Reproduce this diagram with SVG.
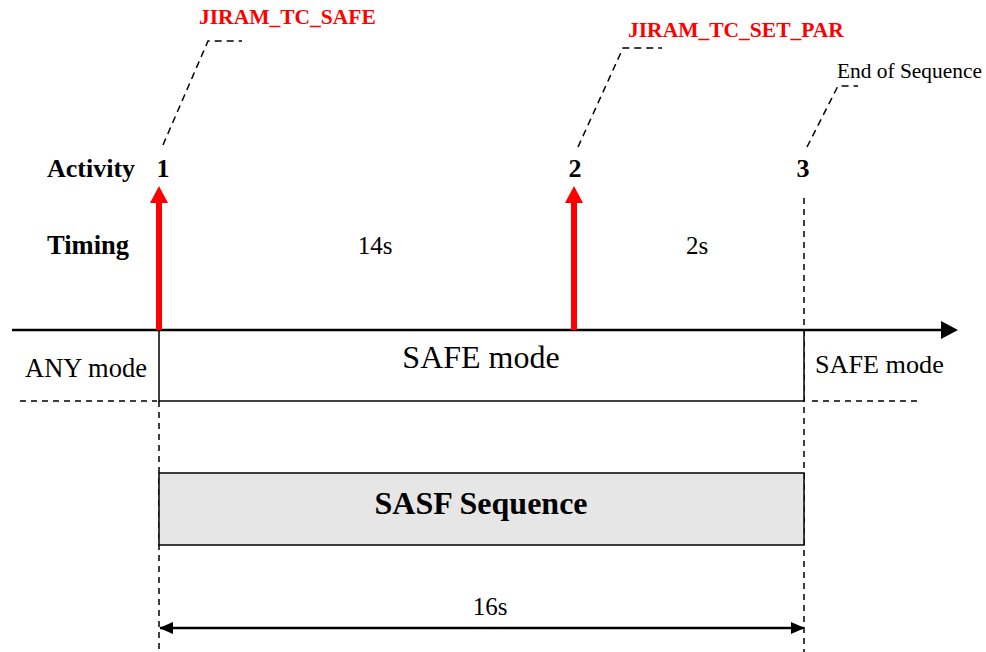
<svg xmlns="http://www.w3.org/2000/svg" width="986" height="652" viewBox="0 0 986 652">
<defs>
<style>
.t{font-family:"Liberation Serif","Times New Roman",serif;fill:#000}
.b{font-weight:bold}
.red{fill:#ff0000;font-weight:bold}
.dash{stroke:#000;stroke-width:1.5;stroke-dasharray:6,5;fill:none}
.lead{stroke:#000;stroke-width:1.5;stroke-dasharray:7,5;fill:none}
.box{stroke:#000;stroke-width:1.5}
</style>
<marker id="ah" viewBox="0 0 10 10" refX="9.5" refY="5" markerWidth="14" markerHeight="14" markerUnits="userSpaceOnUse" orient="auto-start-reverse">
<path d="M0,0.7 L10,5 L0,9.3 z" fill="#000"/>
</marker>
</defs>
<rect width="986" height="652" fill="#fff"/>

<g id="guides">
<line class="dash" x1="159" y1="401" x2="159" y2="652"/>
<line class="dash" x1="804" y1="198" x2="804" y2="652"/>
<line class="dash" x1="20" y1="401" x2="157" y2="401"/>
<line class="dash" x1="812" y1="401" x2="920" y2="401"/>
</g>

<g id="safe-mode-box">
<rect class="box" x="159" y="330" width="645" height="71" fill="#fff"/>
<text class="t" x="481" y="368" font-size="32" text-anchor="middle">SAFE mode</text>
</g>

<g id="axis">
<line x1="12" y1="330" x2="943" y2="330" stroke="#000" stroke-width="2.5"/>
<path d="M941,321 L958,330 L941,339 z" fill="#000"/>
</g>

<g id="sasf-box">
<rect class="box" x="159" y="473" width="645" height="72" fill="#e6e6e6"/>
<text class="t b" x="481" y="514" font-size="32" text-anchor="middle">SASF Sequence</text>
</g>

<g id="connectors">
<line x1="159" y1="330" x2="159" y2="200" stroke="#ff0000" stroke-width="6"/>
<path d="M150,203 L159,186 L168,203 z" fill="#ff0000"/>
<line x1="574" y1="330" x2="574" y2="200" stroke="#ff0000" stroke-width="6"/>
<path d="M565,203 L574,186 L583,203 z" fill="#ff0000"/>
<polyline class="lead" points="163,145 208,41 242,41"/>
<polyline class="lead" points="578,147 623,48 662,48"/>
<polyline class="lead" points="807,147 838,86 858,86"/>
<line x1="160" y1="628" x2="804" y2="628" stroke="#000" stroke-width="2.5" marker-start="url(#ah)" marker-end="url(#ah)"/>
</g>

<g id="labels">
<text class="t b" x="47" y="177" font-size="26">Activity</text>
<text class="t b" x="47" y="254" font-size="26.5">Timing</text>
<text class="t b" x="163" y="177" font-size="26" text-anchor="middle">1</text>
<text class="t b" x="575" y="177" font-size="26" text-anchor="middle">2</text>
<text class="t b" x="803" y="177" font-size="26" text-anchor="middle">3</text>
<text class="t" x="375" y="254" font-size="25" text-anchor="middle">14s</text>
<text class="t" x="697" y="254" font-size="25" text-anchor="middle">2s</text>
<text class="t" x="25" y="377" font-size="26.5">ANY mode</text>
<text class="t" x="815" y="373" font-size="26.2">SAFE mode</text>
<text class="t" x="490" y="615" font-size="25" text-anchor="middle">16s</text>
<text class="t red" x="199" y="24" font-size="21.5">JIRAM_TC_SAFE</text>
<text class="t red" x="628" y="37" font-size="21.5">JIRAM_TC_SET_PAR</text>
<text class="t" x="837" y="78" font-size="21.4">End of Sequence</text>
</g>
</svg>
